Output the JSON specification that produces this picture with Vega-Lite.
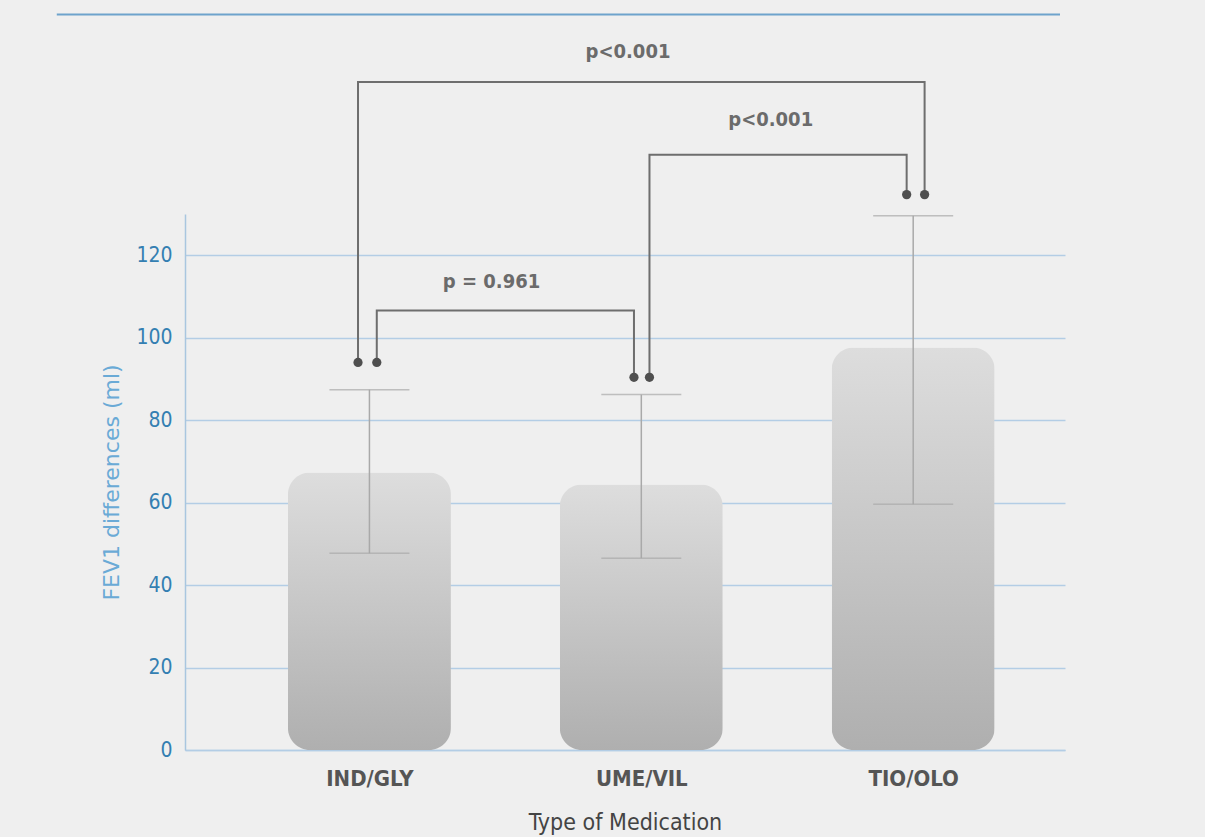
{
  "$schema": "https://vega.github.io/schema/vega-lite/v6.json",
  "width": 880,
  "height": 536,
  "autosize": {"type": "none"},
  "padding": {"left": 185, "top": 214, "right": 140, "bottom": 87},
  "background": "#efefef",
  "config": {"view": {"stroke": null}, "font": "DejaVu Sans Condensed"},
  "datasets": {
    "bars": [
      {"med": "IND/GLY", "pos": 1, "mean": 67.3, "lo": 47.7, "hi": 87.4},
      {"med": "UME/VIL", "pos": 2, "mean": 64.4, "lo": 46.5, "hi": 86.2},
      {"med": "TIO/OLO", "pos": 3, "mean": 97.6, "lo": 59.6, "hi": 129.6}
    ],
    "brackets": [
      {"b": "A", "step": 1, "pos": 1.027, "val": 94.0},
      {"b": "A", "step": 2, "pos": 1.027, "val": 106.6},
      {"b": "A", "step": 3, "pos": 1.973, "val": 106.6},
      {"b": "A", "step": 4, "pos": 1.973, "val": 90.4},
      {"b": "B", "step": 1, "pos": 2.030, "val": 90.4},
      {"b": "B", "step": 2, "pos": 2.030, "val": 144.4},
      {"b": "B", "step": 3, "pos": 2.976, "val": 144.4},
      {"b": "B", "step": 4, "pos": 2.976, "val": 134.7},
      {"b": "C", "step": 1, "pos": 0.958, "val": 94.0},
      {"b": "C", "step": 2, "pos": 0.958, "val": 162.0},
      {"b": "C", "step": 3, "pos": 3.042, "val": 162.0},
      {"b": "C", "step": 4, "pos": 3.042, "val": 134.7}
    ],
    "dots": [
      {"pos": 0.958, "val": 94.0},
      {"pos": 1.027, "val": 94.0},
      {"pos": 1.973, "val": 90.4},
      {"pos": 2.030, "val": 90.4},
      {"pos": 2.976, "val": 134.7},
      {"pos": 3.042, "val": 134.7}
    ],
    "labels": [
      {"pos": 1.449, "val": 113.4, "txt": "p = 0.961"},
      {"pos": 2.476, "val": 152.9, "txt": "p<0.001"},
      {"pos": 1.951, "val": 169.4, "txt": "p<0.001"}
    ],
    "topline": [
      {"pos": -0.15, "pos2": 3.54, "val": 178.4}
    ]
  },
  "layer": [
    {
      "data": {"name": "bars"},
      "mark": {
        "type": "bar",
        "size": 163,
        "cornerRadius": 22,
        "color": {
          "gradient": "linear",
          "x1": 0, "y1": 0, "x2": 0, "y2": 1,
          "stops": [
            {"offset": 0, "color": "#dddddd"},
            {"offset": 1, "color": "#afafaf"}
          ]
        }
      },
      "encoding": {
        "x": {
          "field": "pos",
          "type": "quantitative",
          "title": "Type of Medication",
          "scale": {"domain": [0.34, 3.54], "nice": false, "zero": false},
          "axis": {
            "values": [1, 2, 3],
            "labelExpr": "datum.value == 1 ? 'IND/GLY' : datum.value == 2 ? 'UME/VIL' : 'TIO/OLO'",
            "grid": false,
            "ticks": false,
            "domainColor": "#b3cde5",
            "domainWidth": 1.5,
            "labelFont": "DejaVu Sans Condensed",
            "labelFontWeight": "bold",
            "labelFontSize": 22,
            "labelColor": "#555555",
            "labelPadding": 18,
            "titleFont": "DejaVu Sans Condensed",
            "titleFontWeight": "normal",
            "titleFontSize": 23,
            "titleColor": "#444444",
            "titlePadding": 22
          }
        },
        "y": {
          "field": "mean",
          "type": "quantitative",
          "title": "FEV1 differences (ml)",
          "scale": {"domain": [0, 130], "nice": false},
          "axis": {
            "values": [0, 20, 40, 60, 80, 100, 120],
            "grid": true,
            "gridColor": "#b3cde5",
            "gridWidth": 1.5,
            "ticks": false,
            "domainColor": "#a9c6df",
            "domainWidth": 1.5,
            "labelFont": "DejaVu Sans Condensed",
            "labelFontSize": 21,
            "labelColor": "#347fb2",
            "labelPadding": 13,
            "titleFont": "DejaVu Sans",
            "titleFontWeight": "normal",
            "titleFontSize": 22,
            "titleColor": "#6aaad6",
            "titlePadding": 12
          }
        }
      }
    },
    {
      "data": {"name": "bars"},
      "mark": {"type": "rule", "color": "#a9a9a9", "strokeWidth": 1.5},
      "encoding": {
        "x": {"field": "pos", "type": "quantitative", "title": "Type of Medication"},
        "y": {"field": "lo", "type": "quantitative", "title": "FEV1 differences (ml)"},
        "y2": {"field": "hi"}
      }
    },
    {
      "data": {"name": "bars"},
      "mark": {"type": "tick", "orient": "horizontal", "size": 80, "thickness": 1.5, "color": "#a9a9a9"},
      "encoding": {
        "x": {"field": "pos", "type": "quantitative", "title": "Type of Medication"},
        "y": {"field": "hi", "type": "quantitative", "title": "FEV1 differences (ml)"}
      }
    },
    {
      "data": {"name": "bars"},
      "mark": {"type": "tick", "orient": "horizontal", "size": 80, "thickness": 1.5, "color": "#a9a9a9"},
      "encoding": {
        "x": {"field": "pos", "type": "quantitative", "title": "Type of Medication"},
        "y": {"field": "lo", "type": "quantitative", "title": "FEV1 differences (ml)"}
      }
    },
    {
      "data": {"name": "brackets"},
      "mark": {"type": "line", "color": "#6e6e6e", "strokeWidth": 2, "interpolate": "linear"},
      "encoding": {
        "x": {"field": "pos", "type": "quantitative", "title": "Type of Medication"},
        "y": {"field": "val", "type": "quantitative", "title": "FEV1 differences (ml)"},
        "detail": {"field": "b"},
        "order": {"field": "step", "type": "quantitative"}
      }
    },
    {
      "data": {"name": "dots"},
      "mark": {"type": "point", "filled": true, "size": 85, "color": "#4f4f4f", "opacity": 1},
      "encoding": {
        "x": {"field": "pos", "type": "quantitative", "title": "Type of Medication"},
        "y": {"field": "val", "type": "quantitative", "title": "FEV1 differences (ml)"}
      }
    },
    {
      "data": {"name": "labels"},
      "mark": {"type": "text", "font": "DejaVu Sans Condensed", "fontSize": 20, "fontWeight": "bold", "color": "#6b6b6b", "baseline": "middle", "align": "center"},
      "encoding": {
        "x": {"field": "pos", "type": "quantitative", "title": "Type of Medication"},
        "y": {"field": "val", "type": "quantitative", "title": "FEV1 differences (ml)"},
        "text": {"field": "txt"}
      }
    },
    {
      "data": {"name": "topline"},
      "mark": {"type": "rule", "color": "#6ea3cc", "strokeWidth": 2},
      "encoding": {
        "x": {"field": "pos", "type": "quantitative", "title": "Type of Medication"},
        "x2": {"field": "pos2"},
        "y": {"field": "val", "type": "quantitative", "title": "FEV1 differences (ml)"}
      }
    }
  ]
}
